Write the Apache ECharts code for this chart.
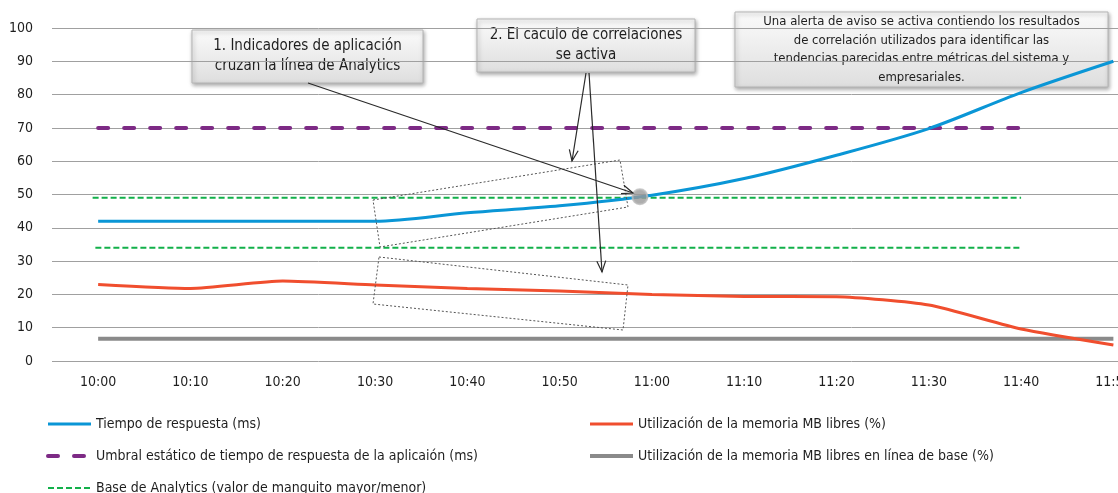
<!DOCTYPE html>
<html>
<head>
<meta charset="utf-8">
<script src="https://cdn.jsdelivr.net/npm/echarts@6/dist/echarts.min.js"></script>
<style>
  html, body { margin: 0; padding: 0; background: #fff; overflow: hidden; }
  #chart { width: 1118px; height: 493px; }
</style>
</head>
<body>
<div id="chart"></div>
<script>
(function () {
  // minutes after 10:00
  var minutes = [0, 10, 20, 30, 40, 50, 60, 70, 80, 90, 100, 110];
  var respTime = [42, 42, 42, 42, 44.5, 46.6, 49.8, 54.8, 61.8, 69.8, 80.6, 90];
  var memFree = [23, 21.8, 24, 22.8, 21.8, 21, 20, 19.4, 19.3, 16.8, 9.6, 4.8];
  var memBase = [6.7, 6.7, 6.7, 6.7, 6.7, 6.7, 6.7, 6.7, 6.7, 6.7, 6.7, 6.7];
  var thresholdX = [0, 100];
  var thresholdY = [70, 70];
  var bandHighX = [-0.6, 100];
  var bandHighY = [49, 49];
  var bandLowX = [-0.3, 100];
  var bandLowY = [34, 34];
  var alertPoint = [[58.7, 49.3]];
  var yTicks = [0, 10, 20, 30, 40, 50, 60, 70, 80, 90, 100];

  var N_RESP = 'Tiempo de respuesta (ms)';
  var N_THR = 'Umbral estático de tiempo de respuesta de la aplicaión (ms)';
  var N_BAND = 'Base de Analytics (valor de manguito mayor/menor)';
  var N_MEM = 'Utilización de la memoria MB libres (%)';
  var N_BASE = 'Utilización de la memoria MB libres en línea de base (%)';

  var FONT = '"Liberation Sans Narrow", "DejaVu Sans Condensed", "Roboto", sans-serif';

  function fmtTime(m) {
    var h = 10 + Math.floor(m / 60);
    var mm = m % 60;
    return h + ':' + (mm < 10 ? '0' : '') + mm;
  }
  function zip(xs, ys) {
    return xs.map(function (x, i) { return [x, ys[i]]; });
  }

  function lineSeries(name, data, color, width, extra) {
    var s = {
      name: name, type: 'line', data: data, symbol: 'none', color: color,
      lineStyle: { color: color, width: width }, silent: true
    };
    for (var k in extra) s[k] = extra[k];
    if (extra && extra.dash) {
      s.lineStyle.type = extra.dash;
      if (extra.cap) s.lineStyle.cap = extra.cap;
    }
    return s;
  }

  var chart = echarts.init(document.getElementById('chart'), null, { renderer: 'canvas' });

  // callout boxes
  function callout(x, y, w, h, text, fontSize, lh) {
    return {
      type: 'group', z: 100,
      children: [
        {
          type: 'rect', shape: { x: x, y: y, width: w, height: h },
          style: {
            fill: new echarts.graphic.LinearGradient(0, 0, 0, 1, [
              { offset: 0, color: '#fbfbfb' }, { offset: 1, color: '#dedede' }
            ]),
            stroke: '#b5b5b5', lineWidth: 1,
            shadowBlur: 4, shadowOffsetX: 1, shadowOffsetY: 2, shadowColor: 'rgba(0,0,0,0.35)'
          }
        },
        {
          type: 'text',
          style: {
            text: text, x: x + w / 2, y: y + h / 2, align: 'center', verticalAlign: 'middle',
            fill: '#1e1e1e', font: fontSize + 'px ' + FONT, lineHeight: lh
          }
        }
      ]
    };
  }

  function arrow(x1, y1, x2, y2) {
    var a = Math.atan2(y2 - y1, x2 - x1);
    var L = 12, sp = 0.38;
    return [
      { type: 'line', z: 90, shape: { x1: x1, y1: y1, x2: x2, y2: y2 },
        style: { stroke: '#2a2a2a', lineWidth: 1.2 } },
      { type: 'polyline', z: 90, shape: { points: [
          [x2 - L * Math.cos(a - sp), y2 - L * Math.sin(a - sp)], [x2, y2],
          [x2 - L * Math.cos(a + sp), y2 - L * Math.sin(a + sp)]] },
        style: { stroke: '#2a2a2a', lineWidth: 1.2, fill: null } }
    ];
  }

  function quad(pts) {
    return { type: 'polygon', z: 80, shape: { points: pts },
      style: { fill: null, stroke: '#555', lineWidth: 1, lineDash: [2, 2] } };
  }

  var graphics = [
    quad([[373, 200], [620, 160], [628, 207], [380, 247]]),
    quad([[379, 257], [628, 285], [623, 330], [373, 304]])
  ]
    .concat(arrow(308, 83, 633, 193))
    .concat(arrow(586, 73, 572, 161))
    .concat(arrow(589, 73, 602, 272))
    .concat([
      callout(192, 30, 231, 53, '1. Indicadores de aplicación\ncruzan la línea de Analytics', 15, 20),
      callout(477, 19, 218, 53, '2. El caculo de correlaciones\nse activa', 15, 20),
      callout(735, 12, 373, 75, 'Una alerta de aviso se activa contiendo los resultados\nde correlación utilizados para identificar las\ntendencias parecidas entre métricas del sistema y\nempresariales.', 13, 18.7)
    ]);

  var legendText = { color: '#1e1e1e', fontSize: 14, fontFamily: FONT, lineHeight: 13 };
  var legendBase = {
    top: 417, orient: 'vertical', padding: 0, itemGap: 18, height: 100,
    itemWidth: 43, itemHeight: 13, selectedMode: false, textStyle: legendText,
    itemStyle: { opacity: 0 }
  };
  function legend(left, items) {
    var l = { left: left };
    l.data = items.map(function (it) { return { name: it[0], lineStyle: { width: it[1] } }; });
    for (var k in legendBase) l[k] = legendBase[k];
    return l;
  }

  chart.setOption({
    animation: false,
    textStyle: { fontFamily: FONT },
    grid: { left: 52, right: 0, top: 28, bottom: 132, outerBoundsMode: 'none', containLabel: false },
    xAxis: {
      type: 'value', min: -5, max: 110.5,
      axisLine: { show: false }, axisTick: { show: false }, splitLine: { show: false },
      axisLabel: { customValues: minutes, formatter: fmtTime, color: '#1e1e1e', fontSize: 14, margin: 14 }
    },
    yAxis: {
      type: 'value', min: 0, max: 100, interval: 10,
      axisLine: { show: false }, axisTick: { show: false },
      axisLabel: { customValues: yTicks, color: '#1e1e1e', fontSize: 14, margin: 19 },
      splitLine: { lineStyle: { color: '#a0a0a0', width: 1 } }
    },
    legend: [
      legend(46, [[N_RESP, 3], [N_THR, 4], [N_BAND, 2]]),
      legend(588, [[N_MEM, 3], [N_BASE, 4]])
    ],
    series: [
      lineSeries(N_BAND, zip(bandHighX, bandHighY), '#12b04a', 2, { dash: [6, 3] }),
      lineSeries(N_BAND, zip(bandLowX, bandLowY), '#12b04a', 2, { dash: [6, 3] }),
      lineSeries(N_THR, zip(thresholdX, thresholdY), '#7d2a85', 4, { dash: [10, 16], cap: 'round' }),
      lineSeries(N_BASE, zip(minutes, memBase), '#8a8a8a', 4, {}),
      lineSeries(N_MEM, zip(minutes, memFree), '#f04e2e', 3, { smooth: 0.2 }),
      lineSeries(N_RESP, zip(minutes, respTime), '#0a96d6', 3, { smooth: 0.3 }),
      {
        type: 'scatter', data: alertPoint, symbolSize: 15, silent: true, z: 5,
        itemStyle: { color: '#999999', borderColor: '#bdbdbd', borderWidth: 2 }
      }
    ],
    graphic: graphics
  });
})();
</script>
</body>
</html>
